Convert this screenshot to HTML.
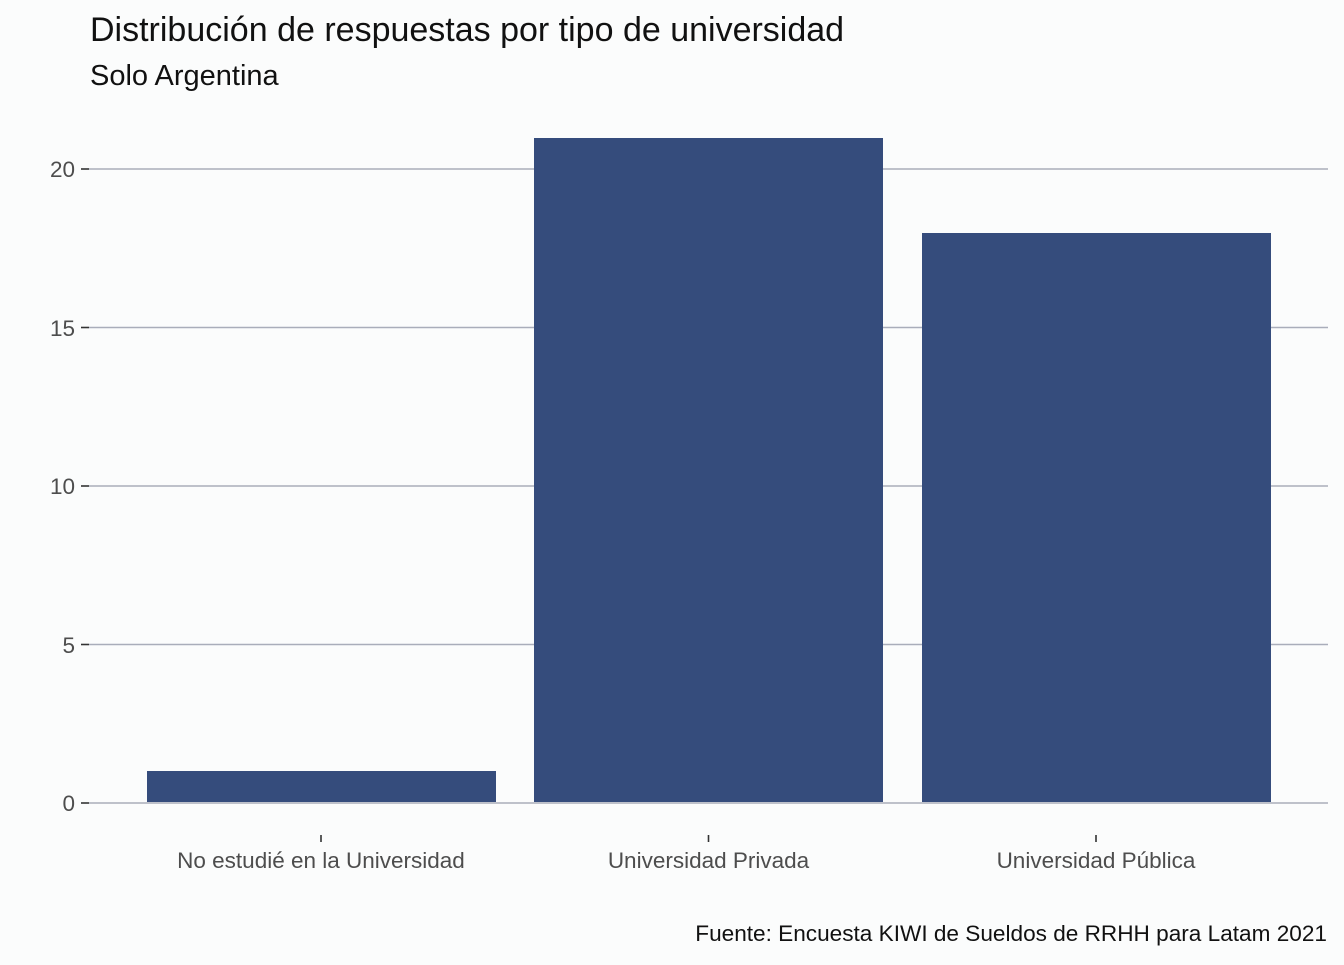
<!DOCTYPE html><html><head><style>body{margin:0;background:#fbfcfc}</style></head><body>
<svg width="1344" height="960" xmlns="http://www.w3.org/2000/svg" font-family="Liberation Sans, Arial, sans-serif">
<rect width="1344" height="960" fill="#fbfcfc"/>
<text x="90" y="41" font-size="34" fill="#111">Distribución de respuestas por tipo de universidad</text>
<text x="90" y="85" font-size="29" fill="#111">Solo Argentina</text>
<g stroke="#a9adba" stroke-width="1.6">
<line x1="89" x2="1328" y1="169" y2="169"/><line x1="89" x2="1328" y1="327.5" y2="327.5"/>
<line x1="89" x2="1328" y1="486" y2="486"/><line x1="89" x2="1328" y1="644.5" y2="644.5"/>
<line x1="89" x2="1328" y1="803" y2="803"/></g>
<g stroke="#333" stroke-width="1.6">
<line x1="81" x2="89" y1="169" y2="169"/><line x1="81" x2="89" y1="327.5" y2="327.5"/>
<line x1="81" x2="89" y1="486" y2="486"/><line x1="81" x2="89" y1="644.5" y2="644.5"/>
<line x1="81" x2="89" y1="803" y2="803"/>
<line x1="321" x2="321" y1="835" y2="842"/><line x1="708.5" x2="708.5" y1="835" y2="842"/><line x1="1096" x2="1096" y1="835" y2="842"/></g>
<g fill="#354c7c">
<rect x="147" y="771" width="349" height="31"/>
<rect x="534" y="138" width="349" height="664"/>
<rect x="922" y="233" width="349" height="569"/></g>
<g font-size="22.5" fill="#4d4d4d" text-anchor="end">
<text x="75" y="177">20</text><text x="75" y="336">15</text><text x="75" y="494">10</text><text x="75" y="653">5</text><text x="75" y="811">0</text></g>
<g font-size="22.5" fill="#4d4d4d" text-anchor="middle">
<text x="321" y="868">No estudié en la Universidad</text><text x="708.5" y="868">Universidad Privada</text><text x="1096" y="868">Universidad Pública</text></g>
<text x="1327" y="941" font-size="22.6" fill="#111" text-anchor="end">Fuente: Encuesta KIWI de Sueldos de RRHH para Latam 2021</text>
</svg></body></html>
